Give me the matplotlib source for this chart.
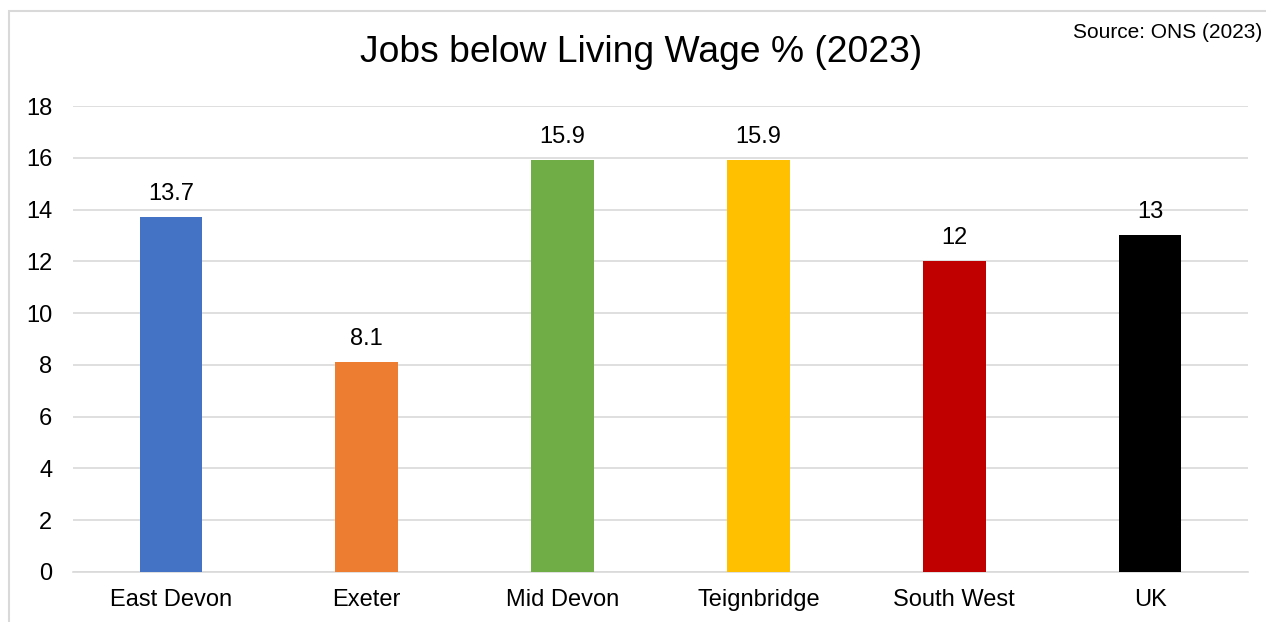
import matplotlib
matplotlib.use("Agg")
import matplotlib.pyplot as plt
from matplotlib.patches import Rectangle

# Data
areas = ["East Devon", "Exeter", "Mid Devon", "Teignbridge", "South West", "UK"]
values = [13.7, 8.1, 15.9, 15.9, 12, 13]
bar_colors = ["#4472C4", "#ED7D31", "#70AD47", "#FFC000", "#C00000", "#000000"]
value_labels = ["13.7", "8.1", "15.9", "15.9", "12", "13"]
y_ticks = [0, 2, 4, 6, 8, 10, 12, 14, 16, 18]

plt.rcParams["font.family"] = ["Liberation Sans", "DejaVu Sans"]

W, H = 1266, 622
fig = plt.figure(figsize=(W / 100, H / 100), dpi=100)
ax = fig.add_axes([73 / W, 1 - 572 / H, (1248 - 73) / W, (572 - 106) / H])

# chart frame (light grey border, cut off at right and bottom)
fig.patches.append(Rectangle((8.5 / W, -0.1), 1.2, 1.1 - 10.5 / H,
                             transform=fig.transFigure, fill=False,
                             edgecolor="#d9d9d9", linewidth=1.5))

x = list(range(len(areas)))
ax.bar(x, values, width=0.32, color=bar_colors, zorder=3)

for xi, v, lab in zip(x, values, value_labels):
    ax.annotate(lab, (xi, v), xytext=(0, 9), textcoords="offset points",
                ha="center", va="bottom", fontsize=17, color="#000000")

ax.set_xlim(-0.5, len(areas) - 0.5)
ax.set_ylim(0, 18)
ax.set_yticks(y_ticks)
ax.set_yticklabels([str(t) for t in y_ticks])
ax.set_xticks(x)
ax.set_xticklabels(areas)
ax.tick_params(axis="both", length=0, labelsize=17, colors="#000000")
ax.tick_params(axis="y", pad=15)
ax.tick_params(axis="x", pad=12)

ax.grid(axis="y", color="#d9d9d9", linewidth=1.2, zorder=0)
for side in ["top", "right", "left"]:
    ax.spines[side].set_visible(False)
ax.spines["bottom"].set_color("#d9d9d9")
ax.spines["bottom"].set_linewidth(1.2)

fig.text(641 / W, 1 - 52 / H, "Jobs below Living Wage % (2023)",
         ha="center", va="center", fontsize=26.8)
fig.text(1262 / W, 1 - 32 / H, "Source: ONS (2023)",
         ha="right", va="center", fontsize=15)

fig.savefig("out.png", dpi=100)
